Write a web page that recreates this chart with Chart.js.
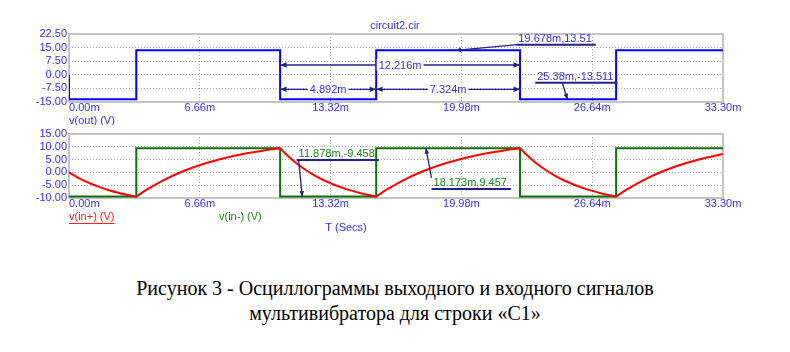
<!DOCTYPE html>
<html>
<head>
<meta charset="utf-8">
<script src="https://cdn.jsdelivr.net/npm/chart.js@4/dist/chart.umd.min.js"></script>
<style>
  body { margin: 0; background: #fff; width: 790px; height: 352px; position: relative; overflow: hidden; }
  canvas { position: absolute; left: 0; }
  #top { top: 0; }
  #bottom { top: 125px; }
  .caption { position: absolute; left: 0; width: 790px; text-align: center; font-family: "Liberation Serif", "Times New Roman", serif; font-size: 20px; color: #000; }
</style>
</head>
<body>
<canvas id="top" width="790" height="125"></canvas>
<canvas id="bottom" width="790" height="115"></canvas>
<div class="caption" style="top:277px">Рисунок 3 - Осциллограммы выходного и входного сигналов</div>
<div class="caption" style="top:302px">мультивибратора для строки «С1»</div>

<script>
// time axis (ms)
const timeTicks = [0, 6.66, 13.32, 19.98, 26.64, 33.30];
const timeLabels = ['0.00m', '6.66m', '13.32m', '19.98m', '26.64m', '33.30m'];
// voltage axes
const topTicks = [-15, -7.5, 0, 7.5, 15, 22.5];
const bottomTicks = [-10, -5, 0, 5, 10, 15];

// v(out) - square wave, top plot
const outT = [0, 0, 3.426, 3.426, 10.75, 10.75, 15.642, 15.642, 22.966, 22.966, 27.858, 27.858, 33.3];
const outV = [0, -13.511, -13.511, 13.51, 13.51, -13.511, -13.511, 13.51, 13.51, -13.511, -13.511, 13.51, 13.51];

// v(in-) - green square wave, bottom plot
const inMinusT = [0, 3.426, 3.426, 10.75, 10.75, 15.642, 15.642, 22.966, 22.966, 27.858, 27.858, 33.3];
const inMinusV = [-9.458, -9.458, 9.457, 9.457, -9.458, -9.458, 9.457, 9.457, -9.458, -9.458, 9.457, 9.457];

// v(in+) - red capacitor curve, bottom plot
const inPlusT = [0, 0.5, 1, 1.5, 2, 2.5, 3, 3.3, 3.426, 3.55, 4, 5, 6, 7, 8, 9, 10, 10.6, 10.75,
  10.88, 11, 11.5, 12, 12.5, 13, 14, 15, 15.5, 15.642, 15.766, 16.216, 17.216, 18.216, 19.216, 20.216,
  21.216, 22.216, 22.816, 22.966, 23.096, 23.216, 23.716, 24.216, 24.716, 25.216, 26.216, 27.216, 27.716,
  27.858, 27.982, 28.432, 29.432, 30.432, 31.432, 32.432, 33.3];
const inPlusV = [0, -2.2, -4.03, -5.57, -6.86, -7.94, -8.85, -9.32, -9.458, -8.79, -6.54, -2.31, 1.03, 3.66, 5.74, 7.38, 8.67, 9.31, 9.457,
  8.42, 7.51, 4.09, 1.23, -1.16, -3.17, -6.25, -8.42, -9.25, -9.458, -8.79, -6.54, -2.31, 1.03, 3.66, 5.74,
  7.38, 8.67, 9.31, 9.457, 8.42, 7.51, 4.09, 1.23, -1.16, -3.17, -6.25, -8.42, -9.25,
  -9.458, -8.79, -6.54, -2.31, 1.03, 3.66, 5.74, 7.19];

// cursor labels: [text, point t, point v, label t, underline v]
const topMarks = [['19.678m,13.51', 19.678, 13.51, 22.83, 16.6], ['25.38m,-13.511', 25.38, -13.511, 23.79, -4.36]];
const bottomMarks = [['11.878m,-9.458', 11.878, -9.458, 11.64, 4.84], ['18.173m,9.457', 18.173, 9.457, 18.51, -6.48]];

const FONT = '11px "Liberation Sans", Arial, sans-serif';
const BLUE_TXT = '#3030ff';
const NAVY = '#22228a';

function pts(t, v) { return t.map((x, i) => ({ x: x, y: v[i] })); }

function head(ctx, x1, y1, x2, y2, s) {
  const a = Math.atan2(y2 - y1, x2 - x1);
  ctx.beginPath();
  ctx.moveTo(x2, y2);
  ctx.lineTo(x2 - s * Math.cos(a - 0.4), y2 - s * Math.sin(a - 0.4));
  ctx.lineTo(x2 - s * Math.cos(a + 0.4), y2 - s * Math.sin(a + 0.4));
  ctx.closePath();
  ctx.fill();
}

// dimension line between two times, arrows pointing outwards
function dim(chart, t1, t2, v, text) {
  const ctx = chart.ctx, xs = chart.scales.x, ys = chart.scales.y;
  const a = xs.getPixelForValue(t1), b = xs.getPixelForValue(t2), y = ys.getPixelForValue(v);
  ctx.strokeStyle = NAVY; ctx.fillStyle = NAVY; ctx.lineWidth = 1.3;
  ctx.beginPath(); ctx.moveTo(a, y); ctx.lineTo(b, y); ctx.stroke();
  ctx.beginPath(); ctx.moveTo(a, y - 3); ctx.lineTo(a, y + 3); ctx.moveTo(b, y - 3); ctx.lineTo(b, y + 3); ctx.stroke();
  head(ctx, a + 8, y, a, y, 7);
  head(ctx, b - 8, y, b, y, 7);
  ctx.font = FONT;
  const w = ctx.measureText(text).width, c = (a + b) / 2;
  ctx.fillStyle = '#fff'; ctx.fillRect(c - w / 2 - 2, y - 6, w + 4, 12);
  ctx.fillStyle = BLUE_TXT; ctx.textAlign = 'center'; ctx.textBaseline = 'middle';
  ctx.fillText(text, c, y + 0.5);
}

function marks(chart, list, color, tail) {
  const ctx = chart.ctx, xs = chart.scales.x, ys = chart.scales.y;
  list.forEach((m, i) => {
    const px = xs.getPixelForValue(m[1]), py = ys.getPixelForValue(m[2]);
    const lx = xs.getPixelForValue(m[3]), ly = ys.getPixelForValue(m[4]);
    ctx.font = FONT;
    const w = ctx.measureText(m[0]).width;
    ctx.fillStyle = color; ctx.textAlign = 'left'; ctx.textBaseline = 'alphabetic';
    ctx.fillText(m[0], lx + 1, ly - 3);
    ctx.strokeStyle = NAVY; ctx.fillStyle = NAVY; ctx.lineWidth = 2;
    ctx.beginPath(); ctx.moveTo(lx - 1, ly); ctx.lineTo(lx + w + 5, ly); ctx.stroke();
    const st = tail[i];
    const sx = lx + st[0], sy = ly + st[1];
    ctx.lineWidth = 1.3;
    ctx.beginPath(); ctx.moveTo(sx, sy); ctx.lineTo(px, py); ctx.stroke();
    head(ctx, sx, sy, px, py, 6);
  });
}

function frameAndLabels(chart, labelY) {
  const ctx = chart.ctx, a = chart.chartArea, xs = chart.scales.x;
  ctx.save();
  ctx.strokeStyle = '#c4c4c4'; ctx.lineWidth = 2;
  ctx.strokeRect(a.left, a.top, a.right - a.left, a.bottom - a.top);
  ctx.font = FONT; ctx.fillStyle = BLUE_TXT; ctx.textBaseline = 'middle';
  timeTicks.forEach((t, i) => {
    ctx.textAlign = i === 0 ? 'left' : 'center';
    ctx.fillText(timeLabels[i], xs.getPixelForValue(t), labelY);
  });
  ctx.restore();
}

function scales(yTicks, xHeight) {
  return {
    x: {
      type: 'linear', min: 0, max: 33.3,
      afterBuildTicks: s => { s.ticks = timeTicks.map(v => ({ value: v })); },
      afterFit: s => { s.height = xHeight; },
      ticks: { display: false },
      grid: { color: '#a8a8a8', drawTicks: false },
      border: { display: false, dash: [1, 2] }
    },
    y: {
      min: yTicks[0], max: yTicks[yTicks.length - 1],
      afterBuildTicks: s => { s.ticks = yTicks.map(v => ({ value: v })); },
      afterFit: s => { s.width = 69; },
      ticks: { autoSkip: false, padding: 2, color: BLUE_TXT, font: { family: '"Liberation Sans", Arial, sans-serif', size: 11 },
        callback: v => v.toFixed(2) },
      grid: { color: '#a8a8a8', drawTicks: false },
      border: { display: false, dash: [1, 2] }
    }
  };
}

const common = {
  responsive: false, animation: false, devicePixelRatio: 1,
  plugins: { legend: { display: false }, tooltip: { enabled: false } },
  elements: { point: { radius: 0 } }
};

new Chart(document.getElementById('top'), {
  type: 'line',
  data: {
    datasets: [{ label: 'v(out)', data: pts(outT, outV), borderColor: '#0000ff', borderWidth: 2, tension: 0 }]
  },
  options: Object.assign({}, common, {
    layout: { padding: { top: 34, right: 67, left: 0, bottom: 0 } },
    scales: scales(topTicks, 23)
  }),
  plugins: [{
    id: 'topDeco',
    beforeDatasetsDraw: c => frameAndLabels(c, 108),
    afterDatasetsDraw: c => {
      const ctx = c.ctx;
      ctx.save();
      dim(c, 10.75, 22.966, 5.4, '12.216m');
      dim(c, 10.75, 15.642, -8.0, '4.892m');
      dim(c, 15.642, 22.966, -8.0, '7.324m');
      marks(c, topMarks, BLUE_TXT, [[0, 0], [26, 0]]);
      ctx.font = FONT; ctx.fillStyle = BLUE_TXT; ctx.textBaseline = 'middle';
      ctx.textAlign = 'center'; ctx.fillText('circuit2.cir', 395, 26);
      ctx.textAlign = 'left'; ctx.fillText('v(out) (V)', 69, 121);
      ctx.restore();
    }
  }]
});

new Chart(document.getElementById('bottom'), {
  type: 'line',
  data: {
    datasets: [
      { label: 'v(in+)', data: pts(inPlusT, inPlusV), borderColor: '#ff0000', borderWidth: 2, cubicInterpolationMode: 'monotone', order: 0 },
      { label: 'v(in-)', data: pts(inMinusT, inMinusV), borderColor: '#107010', borderWidth: 2, tension: 0, order: 1 }
    ]
  },
  options: Object.assign({}, common, {
    layout: { padding: { top: 9, right: 67, left: 0, bottom: 0 } },
    scales: scales(bottomTicks, 42)
  }),
  plugins: [{
    id: 'bottomDeco',
    beforeDatasetsDraw: c => frameAndLabels(c, 79),
    afterDatasetsDraw: c => {
      const ctx = c.ctx;
      ctx.save();
      marks(c, bottomMarks, '#1a8a1a', [[1, 0], [-1, -11]]);
      ctx.font = FONT; ctx.textBaseline = 'middle'; ctx.textAlign = 'left';
      ctx.fillStyle = '#ff2020'; ctx.fillText('v(in+) (V)', 69, 92);
      const w = ctx.measureText('v(in+) (V)').width;
      ctx.strokeStyle = '#ff2020'; ctx.lineWidth = 1;
      ctx.beginPath(); ctx.moveTo(69, 98.5); ctx.lineTo(69 + w, 98.5); ctx.stroke();
      ctx.fillStyle = '#1a8a1a'; ctx.fillText('v(in-) (V)', 219, 92);
      ctx.fillStyle = BLUE_TXT; ctx.textAlign = 'center'; ctx.fillText('T (Secs)', 346, 103);
      ctx.restore();
    }
  }]
});
</script>
</body>
</html>
